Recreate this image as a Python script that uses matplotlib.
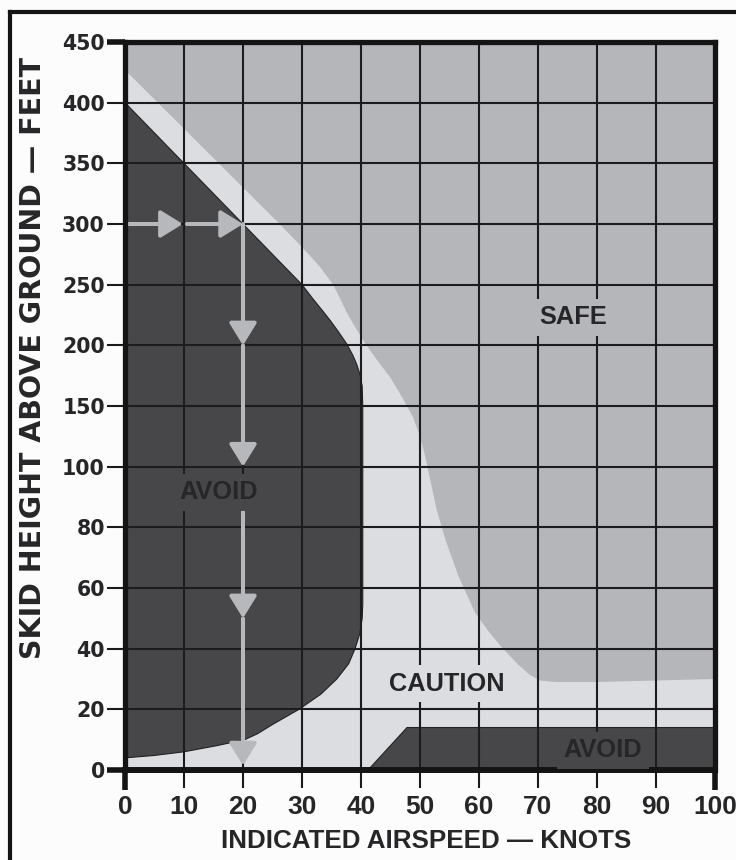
import numpy as np
import matplotlib
matplotlib.use("Agg")
import matplotlib.pyplot as plt
from matplotlib.patches import Polygon
from matplotlib.lines import Line2D

# ---------------- data ----------------
x_ticks = [0, 10, 20, 30, 40, 50, 60, 70, 80, 90, 100]
y_ticks = [0, 20, 40, 60, 80, 100, 150, 200, 250, 300, 350, 400, 450]

# caution / safe boundary (knots, feet)
caution_x = [0, 26, 30, 33, 35.3, 37.8, 40.5, 42.7, 44.9, 47, 48.8, 50, 50.8, 51.7, 52.8, 54.3,
             56.5, 59.3, 61.5, 63.6, 66.5, 68.5, 70.3, 73, 80, 90, 100]
caution_y = [427, 301, 281, 265, 250, 225, 203, 188, 174, 157, 141, 125, 110, 96, 86, 76,
             64, 52, 46, 41, 35, 31.5, 29.5, 29, 29, 29.5, 30]

# left avoid region: upper edge then lower edge
avoid_up_x = [0, 30, 31.9, 33.4, 34.7, 36.2, 37.6, 38.6, 39.3, 39.9, 40.2, 40.3, 40.3]
avoid_up_y = [400, 250, 238, 229, 221, 211, 201, 192, 184, 175, 166, 150, 55]
avoid_lo_x = [40.2, 39.8, 39.0, 37.9, 35.9, 33.2, 29.5, 25.0, 22.5, 20.3, 15.5, 10, 5, 0]
avoid_lo_y = [50, 45, 40, 35, 30, 25, 20, 15, 12, 10, 8, 6, 4.8, 4]

# low avoid band
low_avoid_x = [41.2, 47.8, 100, 100]
low_avoid_y = [0, 14, 14, 0]

# example arrows (start, end)
arrows = [((0, 300), (9.8, 300)),
          ((10.5, 300), (20, 300)),
          ((20, 300), (20, 200)),
          ((20, 200), (20, 100)),
          ((20, 87.5), (20, 50)),
          ((20, 50), (20, 1.5))]

labels = [("SAFE", 76, 223), ("CAUTION", 54.6, 28.5), ("AVOID", 81, 6.5), ("AVOID", 15.8, 91.5)]

# ---------------- style ----------------
C_SAFE = "#b5b6b9"
C_CAUT = "#dcdde0"
C_AVOID = "#47474a"
C_ARROW = "#b7b8bb"
C_TEXT = "#262628"
BG = "#fcfcfc"

W, H = 736, 860
fig = plt.figure(figsize=(W / 100, H / 100), dpi=100, facecolor=BG)
ax = fig.add_axes([125 / W, 1 - 770 / H, (715 - 125) / W, (770 - 42) / H])
ax.set_facecolor(C_SAFE)


def fwd(v):
    v = np.asarray(v, dtype=float)
    return np.where(v <= 100, v / 20.0, 5 + (v - 100) / 50.0)


def inv(u):
    u = np.asarray(u, dtype=float)
    return np.where(u <= 5, u * 20.0, 100 + (u - 5) * 50.0)


ax.set_yscale("function", functions=(fwd, inv))
ax.set_xlim(0, 100)
ax.set_ylim(0, 450)

# caution region
cpts = [(0, 0), (100, 0)] + list(zip(caution_x[::-1], caution_y[::-1]))
ax.add_patch(Polygon(cpts, closed=True, facecolor=C_CAUT, edgecolor="none", zorder=1))

# avoid left
apts = list(zip(avoid_up_x, avoid_up_y)) + list(zip(avoid_lo_x, avoid_lo_y))
ax.add_patch(Polygon(apts, closed=True, facecolor=C_AVOID, edgecolor="#222224", lw=0.8,
                     joinstyle="round", zorder=1.2))

# avoid low band
ax.add_patch(Polygon(list(zip(low_avoid_x, low_avoid_y)), closed=True, facecolor=C_AVOID,
                     edgecolor="#222224", lw=0.8, zorder=1.2))

# grid
ax.set_xticks(x_ticks)
ax.set_yticks(y_ticks)
ax.set_yticklabels([str(v) for v in y_ticks])
ax.minorticks_off()
ax.grid(True, color="#1c1c1e", lw=1.5)
ax.set_axisbelow(False)
for gl in ax.get_xgridlines() + ax.get_ygridlines():
    gl.set_zorder(2)

for s in ax.spines.values():
    s.set_linewidth(3.8)
    s.set_color("#141414")
    s.set_zorder(6)
ax.spines["bottom"].set_linewidth(4.3)

ax.tick_params(axis="y", length=13, width=1.5, pad=1.5, colors="#1a1a1a", labelcolor=C_TEXT)
ax.tick_params(axis="x", length=13, width=1.5, pad=5, colors="#1a1a1a", labelcolor=C_TEXT)
for t in ax.get_yticklabels():
    t.set_fontfamily("DejaVu Sans")
    t.set_fontweight("bold")
    t.set_fontsize(14.8)
for t in ax.get_xticklabels():
    t.set_fontfamily("Liberation Sans")
    t.set_fontweight("bold")
    t.set_fontsize(19)

# thicker end ticks (extensions of the frame)
ext_x = 18 / 590
ext_y = 20 / 728
for xs, ys in [([-ext_x, 0], [1, 1]), ([-ext_x, 0], [0, 0]), ([0, 0], [0, -ext_y]), ([1, 1], [0, -ext_y])]:
    ax.add_line(Line2D(xs, ys, transform=ax.transAxes, clip_on=False, color="#141414",
                       lw=4.0, solid_capstyle="butt", zorder=6))

# arrows
for (x0, y0), (x1, y1) in arrows:
    ax.annotate("", xy=(x1, y1), xytext=(x0, y0),
                arrowprops=dict(arrowstyle="-|>,head_length=0.68,head_width=0.42", color=C_ARROW,
                                lw=2.9, shrinkA=0, shrinkB=0, mutation_scale=20),
                zorder=5)

# region labels
bgc = {"SAFE": C_SAFE, "CAUTION": C_CAUT, "AVOID": C_AVOID}
for txt, lx, ly in labels:
    ax.text(lx, ly, txt, ha="center", va="center", fontsize=18.3, fontweight="bold",
            family="Liberation Sans", color=C_TEXT, zorder=7,
            bbox=dict(boxstyle="square,pad=0.25", facecolor=bgc[txt], edgecolor="none"))

# axis labels
fig.text(33 / W, 1 - 358 / H, "SKID HEIGHT ABOVE GROUND — FEET", rotation=90, ha="center", va="center",
         fontsize=20.5, fontweight="bold", family="DejaVu Sans", color=C_TEXT)
fig.text(426 / W, 1 - 841 / H, "INDICATED AIRSPEED — KNOTS", ha="center", va="center",
         fontsize=18.7, fontweight="bold", family="Liberation Sans", color=C_TEXT)

# outer frame (partially cropped in reference)
fx, fy = 10 / W, 1 - 12 / H
fig.add_artist(Line2D([fx, 1.01], [fy, fy], transform=fig.transFigure, color="#141414", lw=3.0))
fig.add_artist(Line2D([fx, fx], [fy, -0.01], transform=fig.transFigure, color="#141414", lw=3.0))

fig.savefig("out.png", dpi=100, facecolor=BG)
